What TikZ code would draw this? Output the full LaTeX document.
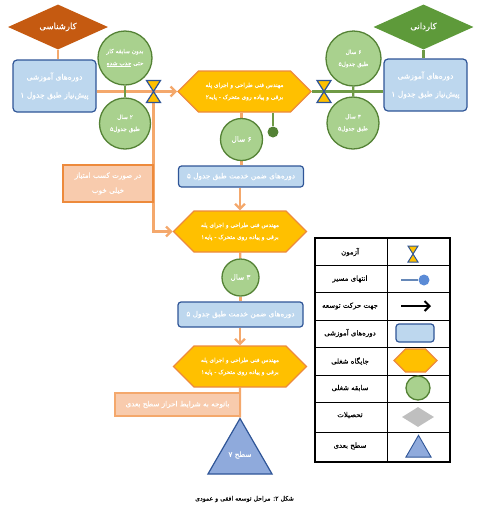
\documentclass[tikz,border=0pt]{standalone}
\usepackage{fontspec}
\usetikzlibrary{shapes.geometric,shapes.symbols,backgrounds,arrows.meta}
\newfontfamily\farsifont[Script=Arabic,FakeBold=0.3]{DejaVu Sans}
\TeXXeTstate=1
\newcommand{\fa}[1]{{\farsifont\beginR #1\endR}}

\definecolor{hexfill}{HTML}{FFC000}
\definecolor{hexline}{HTML}{ED8A3C}
\definecolor{ornline}{HTML}{F4A86C}
\definecolor{ornfill}{HTML}{F8CBAD}
\definecolor{ornbrown}{HTML}{C55A11}
\definecolor{grnfill}{HTML}{A9D18E}
\definecolor{grnline}{HTML}{548235}
\definecolor{grnpath}{HTML}{6F9A46}
\definecolor{grndeg}{HTML}{5E9A3A}
\definecolor{boxfill}{HTML}{BDD7EE}
\definecolor{boxline}{HTML}{2F5597}
\definecolor{trifill}{HTML}{8FAADC}
\definecolor{icondotfill}{HTML}{5B8BD6}
\definecolor{iconlinecol}{HTML}{6688B8}

\tikzset{
    >={Straight Barb[length=5pt,width=10pt]},
    small/.style={font=\fontsize{7.3}{9}\selectfont},
    tiny/.style={font=\fontsize{5.8}{7}\selectfont},
    whitetext/.style={text=white,align=center,inner sep=0pt},
    hexnode/.style={signal,signal to=west and east,signal pointer angle=90,draw=hexline,fill=hexfill,line width=1.3pt,minimum width=133pt,minimum height=41pt,inner sep=0pt,whitetext,tiny},
    coursebox/.style={draw=boxline,fill=boxfill,rounded corners=4pt,line width=1.2pt,whitetext,small},
    yearcirc/.style={circle,draw=grnline,fill=grnfill,line width=1.3pt,whitetext,tiny},
    degree/.style={diamond,aspect=2.2,draw=none,inner sep=0pt,minimum width=100pt,minimum height=45pt,text=white,font=\fontsize{8.5}{10}\selectfont},
    notebox/.style={draw=hexline,fill=ornfill,line width=1.5pt,whitetext,font=\fontsize{7.2}{9}\selectfont},
    nextlevel/.style={regular polygon,regular polygon sides=3,draw=boxline,fill=trifill,line width=1.2pt,inner sep=0pt},
    ornpath/.style={draw=ornline,line width=2.2pt},
    grnconn/.style={draw=grnpath,line width=2.2pt},
    legendtext/.style={font=\fontsize{7}{9}\selectfont,inner sep=0pt},
    hourglass/.pic={\draw[boxline,fill=hexfill,line width=1.2pt] (-7,-11) to (7,-11) to (-7,11) to (7,11) to cycle;},
    smallglass/.pic={\draw[boxline,fill=hexfill,line width=1pt] (-5,-8) to (5,-8) to (-5,8) to (5,8) to cycle;}
}

\begin{document}
\begin{tikzpicture}[x=1pt,y=-1pt]
    \useasboundingbox (0,0) rectangle (483,515);

    \node[degree,fill=ornbrown] (bachelor) at (58,27) {\fa{کارشناسی}};
    \node[degree,fill=grndeg] (associate) at (423.5,27) {\fa{کاردانی}};

    \node[coursebox,font=\fontsize{7.6}{9}\selectfont,minimum width=83pt,minimum height=52pt] (coursel) at (54.5,86) {\fa{دوره‌های آموزشی}\\[9pt]\fa{پیش‌نیاز طبق جدول ۱}};
    \node[coursebox,font=\fontsize{7.6}{9}\selectfont,minimum width=83pt,minimum height=52pt] (courser) at (425.5,85) {\fa{دوره‌های آموزشی}\\[9pt]\fa{پیش‌نیاز طبق جدول ۱}};

    \node[yearcirc,minimum size=54pt] (expa) at (125,58) {\fa{بدون سابقه کار}\\[5pt]\fa{حتی \underbar{\beginR جذب شده\endR}}};
    \node[yearcirc,minimum size=51pt] (expb) at (125,123.5) {\fa{۲ سال}\\[5pt]\fa{طبق جدول۵}};
    \node[yearcirc,minimum size=55pt] (expc) at (353.5,58.5) {\fa{۶ سال}\\[5pt]\fa{طبق جدول۵}};
    \node[yearcirc,minimum size=52pt] (expd) at (353,123) {\fa{۴ سال}\\[5pt]\fa{طبق جدول۵}};

    \coordinate (testl) at (153.5,91.5);
    \coordinate (testr) at (324,91.5);

    \node[hexnode] (posa) at (244.5,91.5) {\fa{مهندس فنی طراحی و اجرای پله}\\[5pt]\fa{برقی و پیاده روی متحرک - پایه۲}};
    \node[yearcirc,small,minimum size=42pt] (expe) at (241.5,139.5) {\fa{۶ سال}};
    \node[circle,fill=grnline,inner sep=0pt,minimum size=11pt] (endpath) at (273,132) {};

    \node[coursebox,rounded corners=3pt,minimum width=125pt,minimum height=21pt] (servicea) at (241,176.5) {\fa{دوره‌های ضمن خدمت طبق جدول ۵}};
    \node[notebox,minimum width=90pt,minimum height=37pt] (scorenote) at (108,183.5) {\fa{در صورت کسب امتیاز}\\[6pt]\fa{خیلی خوب}};

    \node[hexnode] (posb) at (240,231.5) {\fa{مهندس فنی طراحی و اجرای پله}\\[5pt]\fa{برقی و پیاده روی متحرک - پایه۱}};
    \node[yearcirc,small,minimum size=37pt] (expf) at (240.5,277.5) {\fa{۳ سال}};
    \node[coursebox,rounded corners=3pt,minimum width=125pt,minimum height=25pt] (serviceb) at (240.5,314.5) {\fa{دوره‌های ضمن خدمت طبق جدول ۵}};

    \node[hexnode] (posc) at (240,366.5) {\fa{مهندس فنی طراحی و اجرای پله}\\[5pt]\fa{برقی و پیاده روی متحرک - پایه۱}};
    \node[notebox,draw=ornline,minimum width=125pt,minimum height=23pt] (levelnote) at (177.5,404.5) {\fa{باتوجه به شرایط احراز سطح بعدی}};
    \node[nextlevel,minimum size=74pt] (level) at (240,455.5) {};
    \node[text=white,small,inner sep=0pt] (leveltext) at (240,455) {\fa{سطح ۷}};

    \node[font=\fontsize{6.2}{8}\selectfont,inner sep=0pt] (caption) at (244.5,499) {\fa{شکل ۲: مراحل توسعه افقی و عمودی}};

    \begin{scope}[on background layer]
        \draw[ornpath] (bachelor) to (coursel.north -| bachelor);
        \draw[grnconn] (associate) to (courser.north -| associate);
        \draw[ornpath] (coursel.east |- testl) to (testl);
        \draw[ornpath,->] (testl) to (posa.west);
        \draw[ornpath,->] (testl) to (testl |- posb.west) to (posb.west);
        \draw[grnconn] (expa) to (expb);
        \draw[grnconn] (expc) to (expd);
        \draw[grnconn] (posa.east) to (courser.west |- posa.east);
        \draw[ornpath] (posa.south -| expe) to (expe);
        \draw[grnconn] (posa.south -| endpath) to (endpath);
        \draw[ornpath] (expe) to (servicea.north -| expe);
        \draw[ornpath,->] (servicea.south -| posb) to (posb.north);
        \draw[ornpath] (posb) to (expf);
        \draw[ornpath] (expf) to (serviceb.north -| expf);
        \draw[ornpath,->] (serviceb.south -| posc) to (posc.north);
        \draw[ornpath] (posc) to (level);
    \end{scope}

    \pic at (testl) {hourglass};
    \pic at (testr) {hourglass};

    \draw[line width=1.8pt] (315,238) rectangle (450,462);
    \draw[line width=0.9pt] (387,238) to (387,462);
    \foreach \y in {265,292,320,347,375,402,432} {
        \draw[line width=0.9pt] (315,\y) to (450,\y);
    }

    \node[legendtext] (legexam) at (350,252) {\fa{آزمون}};
    \node[legendtext] (legend) at (350,279) {\fa{انتهای مسیر}};
    \node[legendtext] (legdir) at (350,306) {\fa{جهت حرکت توسعه}};
    \node[legendtext] (legcourse) at (350,333) {\fa{دوره‌های آموزشی}};
    \node[legendtext] (legpos) at (350,361) {\fa{جایگاه شغلی}};
    \node[legendtext] (legexp) at (350,388) {\fa{سابقه شغلی}};
    \node[legendtext] (legdeg) at (350,415) {\fa{تحصیلات}};
    \node[legendtext] (leglevel) at (350,446) {\fa{سطح بعدی}};

    \pic at (413,254) {smallglass};
    \coordinate (iconline) at (401,280);
    \node[circle,fill=icondotfill,inner sep=0pt,minimum size=11pt] (icondot) at (424,280) {};
    \begin{scope}[on background layer]
        \draw[iconlinecol,line width=2.4pt] (iconline) to (icondot);
    \end{scope}
    \coordinate (iconfrom) at (401,306);
    \coordinate (iconto) at (431,306);
    \draw[->,line width=2pt] (iconfrom) to (iconto);
    \node[coursebox,rounded corners=3pt,minimum width=38pt,minimum height=18pt] (iconbox) at (415,333) {};
    \node[hexnode,minimum width=43pt,minimum height=23pt] (iconhex) at (415.5,360.5) {};
    \node[yearcirc,minimum size=24pt] (iconcirc) at (418,388) {};
    \node[diamond,aspect=1.6,fill=black!25,inner sep=0pt,minimum width=32pt,minimum height=20pt] (icondeg) at (418,417) {};
    \node[nextlevel,minimum size=29pt,line width=0.9pt] (icontri) at (418.5,449.8) {};
\end{tikzpicture}
\end{document}
